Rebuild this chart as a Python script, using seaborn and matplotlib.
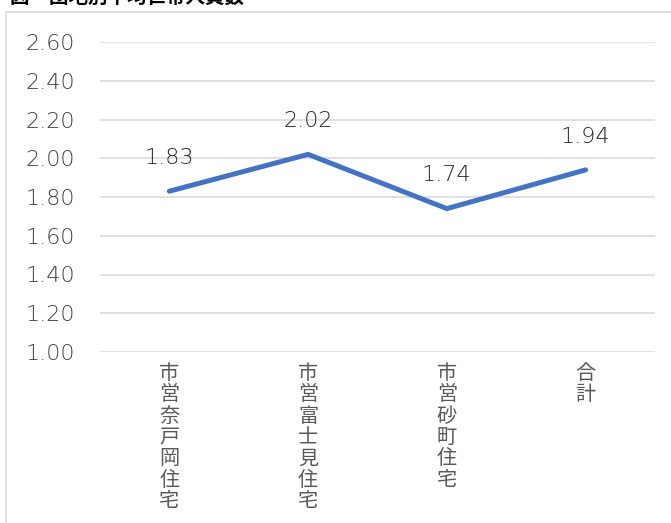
import matplotlib
matplotlib.use("Agg")
import matplotlib.pyplot as plt
import seaborn as sns
import pandas as pd
from matplotlib.patches import Rectangle

# 団地別の平均世帯人員数
complexes = ["市営奈戸岡住宅", "市営富士見住宅", "市営砂町住宅", "合計"]
avg_household = [1.83, 2.02, 1.74, 1.94]
y_ticks = [1.00, 1.20, 1.40, 1.60, 1.80, 2.00, 2.20, 2.40, 2.60]
title = "図　団地別平均世帯人員数"

sns.set_theme(style="white")
plt.rcParams["font.family"] = ["Noto Sans CJK JP", "DejaVu Sans"]

df = pd.DataFrame({"pos": range(len(complexes)), "value": avg_household})

fig = plt.figure(figsize=(6.71, 5.23), dpi=100)
fig.patch.set_facecolor("white")

# chart frame
fig.patches.append(Rectangle((6 / 671, -0.1), 1.2, 1 - 12 / 523 + 0.1,
                             transform=fig.transFigure, fill=False,
                             edgecolor="#D9D9D9", linewidth=1.2))
fig.text(10 / 671, 1 + 3 / 523, title, ha="left", va="center",
         fontsize=14, fontweight="bold", color="#000000")

ax = fig.add_axes([100 / 671, 1 - 352 / 523, 555 / 671, 310 / 523])
sns.lineplot(data=df, x="pos", y="value", ax=ax, color="#4472C4",
             linewidth=3.6, solid_capstyle="round", solid_joinstyle="miter")

num_font = ["DejaVu Sans"]
ax.set_xlim(-0.5, len(complexes) - 0.5)
ax.set_ylim(y_ticks[0], y_ticks[-1])
ax.set_yticks(y_ticks)
ax.set_yticklabels([f"{v:.2f}" for v in y_ticks], fontsize=16,
                   color="#404040", family=num_font, fontweight="light")
ax.set_xticks(range(len(complexes)))
ax.set_xticklabels(["\n".join(c) for c in complexes], fontsize=14.5,
                   color="#595959", va="top", linespacing=1.02)
ax.tick_params(axis="y", length=0, pad=18)
ax.tick_params(axis="x", length=0, pad=8)
ax.set_xlabel("")
ax.set_ylabel("")
ax.grid(axis="y", color="#D9D9D9", linewidth=1.1)
ax.set_axisbelow(True)
for s in ax.spines.values():
    s.set_visible(False)

for x, v in zip(df["pos"], df["value"]):
    ax.annotate(f"{v:.2f}", (x, v), xytext=(0, 24), textcoords="offset points",
                ha="center", va="center", fontsize=16, color="#262626",
                family=num_font, fontweight="light")

fig.savefig("out.png", dpi=100, facecolor="white")
